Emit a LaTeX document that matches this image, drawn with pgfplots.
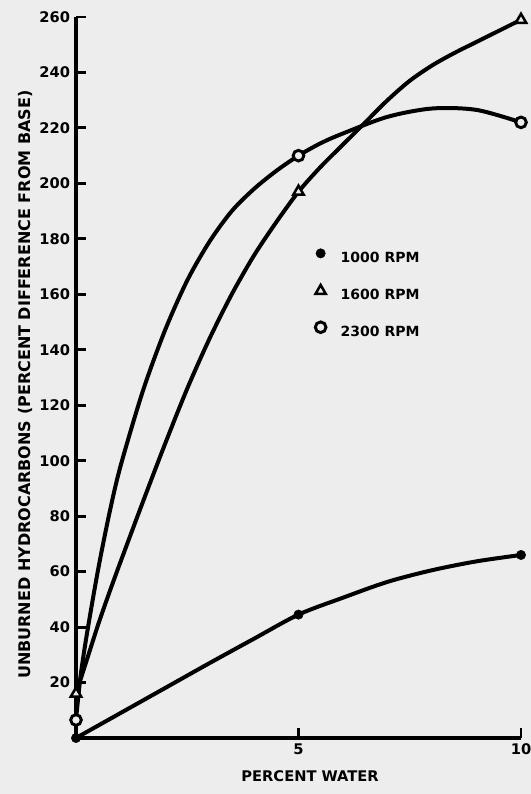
\documentclass[border=0pt]{standalone}
\usepackage{fontspec}
\setmainfont{DejaVu Sans}
\usepackage{pgfplots}
\pgfplotsset{compat=1.18}
\definecolor{paper}{gray}{0.93}
\pgfplotsset{
  legimg/.style={legend image code/.code={\path (0cm,0cm) (0.75cm,0cm); \draw[##1] plot coordinates {(0.3cm,#1)};}},
}

\begin{document}
\begin{tikzpicture}
\fill[paper] (-57pt,-42pt) rectangle (341.25pt,553.5pt);
\begin{axis}[
  at={(0,0)}, anchor=south west, scale only axis,
  width=333.75pt, height=540.75pt,
  xmin=0, xmax=10, ymin=0, ymax=260,
  axis x line=bottom, axis y line=left,
  axis line style={-, line width=2.4pt, black},
  xtick={5,10}, ytick={20,40,...,260},
  tick align=inside, major tick length=7.5pt,
  tick style={line width=2.2pt, black},
  ticklabel style={font=\bfseries\fontsize{11}{13}\selectfont},
  /pgf/number format/assume math mode=true,
  xticklabel style={yshift=-1pt},
  yticklabel style={xshift=-1pt},
  xlabel={PERCENT WATER},
  ylabel={UNBURNED HYDROCARBONS (PERCENT DIFFERENCE FROM BASE)},
  every axis x label/.style={at={(rel axis cs:0.526,0)}, yshift=-28.5pt, anchor=center,
    font=\bfseries\fontsize{11}{13}\selectfont},
  every axis y label/.style={at={(rel axis cs:0,0.490)}, xshift=-38.25pt, anchor=center, rotate=90,
    font=\bfseries\fontsize{12}{14}\selectfont},
  clip=false,
  legend style={at={(rel axis cs:0.523,0.679)}, anchor=north west, draw=none, fill=none,
    inner sep=0pt, row sep=15pt,
    font=\bfseries\fontsize{10.5}{12}\selectfont,
    nodes={text height=8pt, text depth=2pt, inner ysep=0pt}},
  legend cell align=left,
]
% curves
\addplot[black, line width=3pt, smooth, forget plot] coordinates {
 (0,0) (1,9) (2,18) (3,27) (4,35.8) (5,44.5) (6,50.6) (7,56.3) (8,60.5) (9,63.7) (10,66)};
\addplot[black, line width=3pt, smooth, forget plot] coordinates {
 (0,16) (0.25,28.5) (0.5,41) (0.75,52.5) (1,63.5) (1.5,85) (2,106) (2.5,126) (3,144)
 (3.5,160) (4,174) (4.5,186) (5,197) (5.5,206) (6,214) (6.5,222) (7,230) (7.5,237)
 (8,242.5) (8.5,247) (9,251) (9.5,255) (10,259)};
\addplot[black, line width=3pt, smooth, forget plot] coordinates {
 (0,6.5) (0.1,22) (0.25,38) (0.5,61) (0.75,81) (1,98) (1.5,125) (2,147) (2.5,165)
 (3,179) (3.5,190) (4,198) (4.5,204.5) (5,210) (5.5,214.5) (6,218) (7,224) (8,227)
 (9,226.5) (10,222)};
% data points
\addplot[only marks, mark=*, mark size=3.5pt, black, legimg=3.7pt]
  coordinates {(0,0) (5,44.5) (10,66)};
\addlegendentry{1000 RPM}
\addplot[only marks, mark=triangle*, mark size=4.5pt, draw=black, fill=paper,
  mark options={draw=black, fill=paper, line width=1.9pt}, legimg=3.2pt]
  coordinates {(0,16) (5,197) (10,259)};
\addlegendentry{1600 RPM}
\addplot[only marks, mark=*, mark size=4pt, draw=black, fill=paper,
  mark options={draw=black, fill=paper, line width=2.2pt}, legimg=3.7pt]
  coordinates {(0,6.5) (5,210) (10,222)};
\addlegendentry{2300 RPM}
\end{axis}
\pgfresetboundingbox
\useasboundingbox (-57pt,-42pt) rectangle (341.25pt,553.5pt);
\end{tikzpicture}
\end{document}
